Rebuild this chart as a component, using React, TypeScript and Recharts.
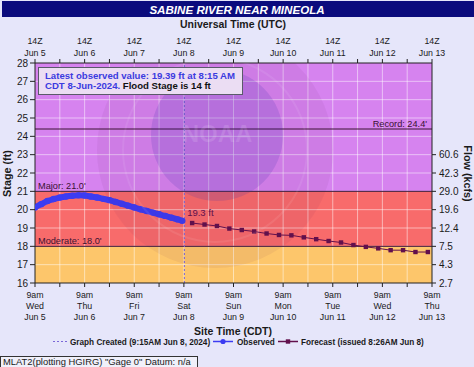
import React from 'react';
import { ComposedChart, Line, XAxis, YAxis, ReferenceArea, ReferenceLine, ReferenceDot } from 'recharts';

const FONT = '"Liberation Sans", Arial, Helvetica, sans-serif';

// hours since Wed Jun 5, 9am CDT
const xTicks = [0, 12, 24, 36, 48, 60, 72, 84, 96, 108, 120, 132, 144, 156, 168, 180, 192];
const dayNames = ['Wed', 'Thu', 'Fri', 'Sat', 'Sun', 'Mon', 'Tue', 'Wed', 'Thu'];
const dateNames = ['Jun 5', 'Jun 6', 'Jun 7', 'Jun 8', 'Jun 9', 'Jun 10', 'Jun 11', 'Jun 12', 'Jun 13'];
const stageTicks = [16, 17, 18, 19, 20, 21, 22, 23, 24, 25, 26, 27, 28];
const flowTicks = [16, 17, 18, 19, 20, 21, 22, 23];
const flowLabels = ['2.7', '4.3', '7.5', '12.4', '19.6', '29.0', '42.3', '60.6'];
const gridStages = [17, 18, 19, 20, 21, 22, 23, 24, 25, 26, 27];
const gridHours = [12, 24, 36, 48, 60, 72, 84, 96, 108, 120, 132, 144, 156, 168, 180];

const obsHours = [0, 3, 6, 9, 12, 15, 18, 21, 24, 27, 30, 33, 36, 39, 42, 45, 48, 51, 54, 57, 60, 63, 66, 69, 71.25];
const obsStage = [20.12, 20.3, 20.47, 20.58, 20.66, 20.72, 20.76, 20.78, 20.77, 20.72, 20.66, 20.59, 20.52, 20.42, 20.32, 20.22, 20.12, 20.02, 19.93, 19.84, 19.75, 19.66, 19.56, 19.47, 19.39];

const fcHours = [76, 82, 88, 94, 100, 106, 112, 118, 124, 130, 136, 142, 148, 154, 160, 166, 172, 178, 184, 190];
const fcStage = [19.27, 19.19, 19.11, 18.97, 18.89, 18.81, 18.7, 18.62, 18.6, 18.49, 18.39, 18.29, 18.21, 18.07, 17.97, 17.89, 17.79, 17.79, 17.69, 17.69];

const graphCreatedHour = 72.25;
const recordStage = 24.4;
const majorStage = 21;
const moderateStage = 18;

const obsData = obsHours.map((t, i) => ({ t, stage: obsStage[i] }));
const fcData = fcHours.map((t, i) => ({ t, stage: fcStage[i] }));

const C = {
  bg: '#E6E6FA',
  navy: '#0B0B7D',
  purple: '#D683EF',
  red: '#F86B6B',
  orange: '#FDC66B',
  obs: '#3C3CF2',
  fc: '#62104C',
  text: '#1A1A1A',
  thresh: '#3A1232',
  created: '#7B68D8',
};

const BottomTick = (props: any) => {
  const { x, y, payload } = props;
  if (payload.value % 24 !== 0) return <g />;
  const i = payload.value / 24;
  return (
    <g fontFamily={FONT} fontSize={8.8} fill={C.text}>
      <text x={x} y={y + 8.5} textAnchor="middle">9am</text>
      <text x={x} y={y + 19.5} textAnchor="middle">{dayNames[i]}</text>
      <text x={x} y={y + 31} textAnchor="middle">{dateNames[i]}</text>
    </g>
  );
};

const TopTick = (props: any) => {
  const { x, y, payload } = props;
  if (payload.value % 24 !== 0) return <g />;
  const i = payload.value / 24;
  return (
    <g fontFamily={FONT} fontSize={8.8} fill={C.text}>
      <text x={x} y={y - 13} textAnchor="middle">14Z</text>
      <text x={x} y={y - 1.5} textAnchor="middle">{dateNames[i]}</text>
    </g>
  );
};

const SquareDot = (p: any) => {
  if (p.cx == null || p.cy == null) return <g key={p.index} />;
  return <rect key={p.index} x={p.cx - 2.2} y={p.cy - 2.2} width={4.4} height={4.4} fill={C.fc} />;
};

const lineLabel = (text: string, side: 'left' | 'right') => (props: any) => {
  const vb = props.viewBox || {};
  const x = side === 'left' ? vb.x + 3 : vb.x + vb.width - 5;
  return (
    <text x={x} y={vb.y - 2} textAnchor={side === 'left' ? 'start' : 'end'} fontFamily={FONT} fontSize={9.2} fill={C.thresh}>
      {text}
    </text>
  );
};

export default function App() {
  return (
    <div style={{ position: 'absolute', left: 0, top: 0, width: 474, height: 367, background: C.bg, overflow: 'hidden' }}>
      <div style={{ position: 'absolute', left: 0, top: 0 }}>
        <ComposedChart width={474} height={367} margin={{ top: 0, right: 0, bottom: 0, left: 0 }}>
          <XAxis xAxisId="b" type="number" dataKey="t" domain={[0, 192]} ticks={xTicks} interval={0} height={84}
            tickSize={4} tickMargin={2} stroke="#222" tick={<BottomTick />} allowDataOverflow />
          <XAxis xAxisId="t" orientation="top" type="number" dataKey="t" domain={[0, 192]} ticks={xTicks} interval={0} height={63}
            tickSize={4} tickMargin={2} stroke="#222" tick={<TopTick />} allowDataOverflow />
          <YAxis yAxisId="l" type="number" domain={[16, 28]} ticks={stageTicks} interval={0} width={35}
            tickSize={5} tickMargin={2} stroke="#222" tick={{ fontSize: 10, fill: C.text, fontFamily: FONT }} allowDataOverflow />
          <YAxis yAxisId="r" orientation="right" type="number" domain={[16, 28]} ticks={flowTicks} interval={0} width={42}
            tickSize={4} tickMargin={3} stroke="#222" tick={{ fontSize: 10, fill: C.text, fontFamily: FONT }}
            tickFormatter={(v: number) => flowLabels[flowTicks.indexOf(v)] ?? ''} allowDataOverflow />

          <ReferenceArea xAxisId="b" yAxisId="l" y1={21} y2={28} fill={C.purple} fillOpacity={1} stroke="none" />
          <ReferenceArea xAxisId="b" yAxisId="l" y1={18} y2={21} fill={C.red} fillOpacity={1} stroke="none" />
          <ReferenceArea xAxisId="b" yAxisId="l" y1={16} y2={18} fill={C.orange} fillOpacity={1} stroke="none" />

          {gridStages.map((s) => (
            <ReferenceLine key={'gs' + s} xAxisId="b" yAxisId="l" y={s} stroke="#FFFFFF" strokeOpacity={0.5} strokeWidth={1} />
          ))}
          {gridHours.map((h) => (
            <ReferenceLine key={'gh' + h} xAxisId="b" yAxisId="l" x={h} stroke="#FFFFFF" strokeOpacity={0.5} strokeWidth={1} />
          ))}

          <ReferenceLine xAxisId="b" yAxisId="l" y={recordStage} stroke={C.thresh} strokeWidth={1}
            label={{ content: lineLabel("Record: 24.4'", 'right') } as any} />
          <ReferenceLine xAxisId="b" yAxisId="l" y={majorStage} stroke={C.thresh} strokeWidth={1}
            label={{ content: lineLabel("Major: 21.0'", 'left') } as any} />
          <ReferenceLine xAxisId="b" yAxisId="l" y={moderateStage} stroke={C.thresh} strokeWidth={1}
            label={{ content: lineLabel("Moderate: 18.0'", 'left') } as any} />

          <ReferenceLine xAxisId="b" yAxisId="l" x={graphCreatedHour} stroke={C.created} strokeDasharray="2 2" strokeWidth={1} />

          <Line xAxisId="b" yAxisId="l" data={obsData} dataKey="stage" type="monotone" stroke={C.obs} strokeWidth={6}
            dot={{ r: 3.2, fill: C.obs, stroke: 'none' }} isAnimationActive={false} />
          <Line xAxisId="t" yAxisId="r" data={fcData} dataKey="stage" type="linear" stroke={C.fc} strokeWidth={1}
            dot={<SquareDot />} isAnimationActive={false} />

          <ReferenceDot xAxisId="b" yAxisId="l" x={fcHours[0]} y={fcStage[0]} r={1} fill="none" stroke="none"
            label={{
              content: (p: any) => {
                const vb = p.viewBox || {};
                return (
                  <text x={vb.x - 4} y={vb.y - 6} fontFamily={FONT} fontSize={9.5} fill={C.fc}>19.3 ft</text>
                );
              },
            } as any} />
        </ComposedChart>
      </div>

      <svg width={474} height={367} style={{ position: 'absolute', left: 0, top: 0, pointerEvents: 'none' }} fontFamily={FONT}>
        <defs>
          <clipPath id="plotClip">
            <rect x={35} y={63} width={397} height={220} />
          </clipPath>
        </defs>
        {/* faint NOAA logo watermark */}
        <g clipPath="url(#plotClip)">
          <circle cx={215} cy={150} r={118} fill="#501050" fillOpacity={0.06} />
          <circle cx={215} cy={150} r={92} fill="none" stroke="#FFFFFF" strokeOpacity={0.08} strokeWidth={2} />
          <circle cx={217} cy={135} r={66} fill="#3A2AB0" fillOpacity={0.16} />
          <text x={217} y={142} textAnchor="middle" fontSize={24} fontWeight="bold" fill="#FFFFFF" fillOpacity={0.12}>NOAA</text>
        </g>

        <rect x={2} y={1} width={472} height={16} fill={C.navy} />
        <text x={237} y={14} textAnchor="middle" fill="#FFFFFF" fontWeight="bold" fontStyle="italic" fontSize={11.6}>
          SABINE RIVER NEAR MINEOLA
        </text>
        <text x={233} y={28} textAnchor="middle" fill={C.text} fontWeight="bold" fontSize={10.5}>Universal Time (UTC)</text>
        <text x={233} y={335} textAnchor="middle" fill={C.text} fontWeight="bold" fontSize={10.5}>Site Time (CDT)</text>
        <text x={11} y={173.5} textAnchor="middle" fill={C.text} fontWeight="bold" fontSize={10.8}
          transform="rotate(-90 11 173.5)">Stage (ft)</text>
        <text x={463.5} y={173.5} textAnchor="middle" fill={C.text} fontWeight="bold" fontSize={10.8}
          transform="rotate(90 463.5 173.5)">Flow (kcfs)</text>

        <rect x={38.5} y={67.5} width={204} height={27} fill="#EBDDF3" stroke="#5A5A6A" strokeWidth={1} />
        <text x={45} y={79} fontWeight="bold" fontSize={9.6} fill="#3B3BE0">Latest observed value: 19.39 ft at 8:15 AM</text>
        <text x={45} y={89} fontWeight="bold" fontSize={9.6} fill="#3B3BE0">
          CDT 8-Jun-2024.<tspan fill="#111">{'  Flood Stage is 14 ft'}</tspan>
        </text>

        <line x1={53} y1={341.5} x2={67} y2={341.5} stroke={C.created} strokeDasharray="2 2" strokeWidth={1} />
        <text x={70} y={344.5} fontWeight="bold" fontSize={8.2} fill={C.text}>Graph Created (9:15AM Jun 8, 2024)</text>
        <line x1={213} y1={341.5} x2={233} y2={341.5} stroke={C.obs} strokeWidth={1.5} />
        <circle cx={223} cy={341.5} r={2.6} fill={C.obs} />
        <text x={237} y={344.5} fontWeight="bold" fontSize={8.2} fill={C.text}>Observed</text>
        <line x1={278} y1={341.5} x2={298} y2={341.5} stroke={C.fc} strokeWidth={1.5} />
        <rect x={285.8} y={339.3} width={4.4} height={4.4} fill={C.fc} />
        <text x={301} y={344.5} fontWeight="bold" fontSize={8.2} fill={C.text}>Forecast (issued 8:26AM Jun 8)</text>

        <rect x={0.5} y={356.5} width={197} height={14} fill="#F0F0FA" stroke="#333" strokeWidth={1} />
        <text x={3} y={365} fontSize={9.4} fill={C.text}>MLAT2(plotting HGIRG) "Gage 0" Datum: n/a</text>
      </svg>
    </div>
  );
}
